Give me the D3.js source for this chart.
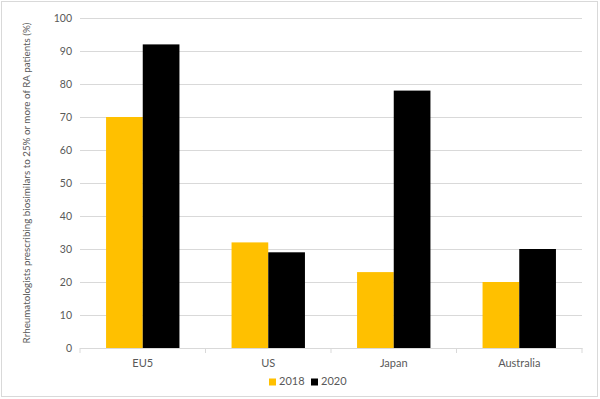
<!DOCTYPE html>
<html>
<head>
<meta charset="utf-8">
<script src="https://cdn.jsdelivr.net/npm/d3@7"></script>
<style>
  body { margin: 0; background: #fff; }
  text { font-family: Lato, "Open Sans", sans-serif; fill: #595959; }
</style>
</head>
<body>
<div id="chart"></div>
<script>
// Grouped bar chart: rheumatologists prescribing biosimilars, 2018 vs 2020.

const categories = ["EU5", "US", "Japan", "Australia"];
const seriesNames = ["2018", "2020"];
const values2018 = [70, 32, 23, 20];
const values2020 = [92, 29, 78, 30];
const yTicks = [0, 10, 20, 30, 40, 50, 60, 70, 80, 90, 100];

const COLORS = { "2018": "#FFC000", "2020": "#000000" };
const WIDTH = 600;
const HEIGHT = 399;
const margin = { top: 18, right: 18, bottom: 51, left: 80 };

const svg = d3.select("#chart").append("svg")
    .attr("width", WIDTH)
    .attr("height", HEIGHT);

// outer frame
svg.append("rect")
    .attr("x", 1.5).attr("y", 1.5)
    .attr("width", WIDTH - 4).attr("height", HEIGHT - 4)
    .attr("fill", "none")
    .attr("stroke", "#d9d9d9");

const x = d3.scaleBand()
    .domain(categories)
    .range([margin.left, WIDTH - margin.right])
    .paddingInner(0)
    .paddingOuter(0);

const xSeries = d3.scaleBand()
    .domain(seriesNames)
    .range([0, x.bandwidth()])
    .paddingInner(0)
    .paddingOuter(0.71);

const y = d3.scaleLinear()
    .domain([0, 100])
    .range([HEIGHT - margin.bottom, margin.top]);

// gridlines + y labels
const yAxis = svg.append("g")
    .attr("transform", `translate(${margin.left},0)`)
    .call(d3.axisLeft(y).tickValues(yTicks)
        .tickSize(-(WIDTH - margin.left - margin.right))
        .tickPadding(8));
yAxis.select(".domain").remove();
yAxis.selectAll(".tick line").attr("stroke", "#d9d9d9");
yAxis.selectAll(".tick text").style("font-size", "10.5px");

const rows = categories.map((c, i) => ({ cat: c, vals: [values2018[i], values2020[i]] }));

const groups = svg.append("g")
    .selectAll("g")
    .data(rows)
    .join("g")
    .attr("transform", d => `translate(${x(d.cat)},0)`);

groups.selectAll("rect")
    .data(d => d.vals.map((v, j) => ({ key: seriesNames[j], value: v })))
    .join("rect")
    .attr("x", d => xSeries(d.key))
    .attr("width", xSeries.bandwidth())
    .attr("y", d => y(d.value))
    .attr("height", d => y(0) - y(d.value))
    .attr("fill", d => COLORS[d.key]);

// x axis with category separators
const xAxis = svg.append("g")
    .attr("transform", `translate(0,${y(0)})`)
    .call(d3.axisBottom(x).tickSize(0).tickPadding(11));
xAxis.select(".domain").attr("stroke", "#d9d9d9");
xAxis.selectAll(".tick text").style("font-size", "11px");

svg.append("g")
    .selectAll("line")
    .data(categories.concat(["__end"]))
    .join("line")
    .attr("x1", (d, i) => margin.left + i * x.bandwidth())
    .attr("x2", (d, i) => margin.left + i * x.bandwidth())
    .attr("y1", y(0))
    .attr("y2", y(0) + 5)
    .attr("stroke", "#d9d9d9");

// y axis title
svg.append("text")
    .attr("transform", `translate(28,${(y(0) + y(100)) / 2}) rotate(-90)`)
    .attr("text-anchor", "middle")
    .attr("dominant-baseline", "middle")
    .style("font-size", "9.8px")
    .text("Rrheumatologists prescribing biosimilars to 25% or more of RA patients (%)");

// legend
const legend = svg.append("g")
    .attr("transform", `translate(269,382)`);

const legendItems = legend.selectAll("g")
    .data(seriesNames)
    .join("g")
    .attr("transform", (d, i) => `translate(${i * 42},0)`);

legendItems.append("rect")
    .attr("x", 0).attr("y", -3.5)
    .attr("width", 7).attr("height", 7)
    .attr("fill", d => COLORS[d]);

legendItems.append("text")
    .attr("x", 10)
    .attr("dominant-baseline", "middle")
    .style("font-size", "11px")
    .text(d => d);
</script>
</body>
</html>
